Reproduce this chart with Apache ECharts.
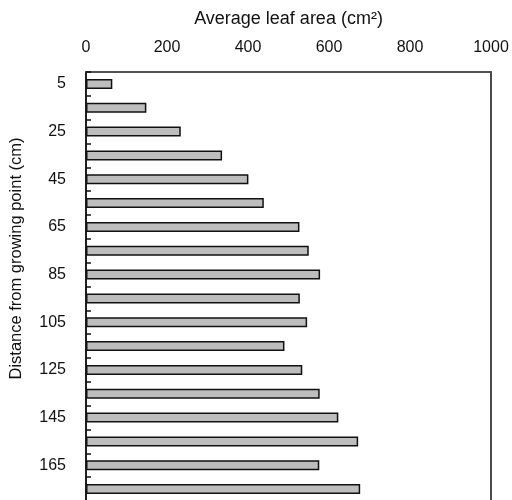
<!DOCTYPE html>
<html>
<head>
<meta charset="utf-8">
<script src="https://cdn.jsdelivr.net/npm/echarts@6/dist/echarts.min.js"></script>
<style>
  html, body { margin: 0; padding: 0; overflow: hidden; background: #fff; }
  #chart { width: 512px; height: 520px; }
</style>
</head>
<body>
<div id="chart"></div>
<script>
// Distance from the growing point (cm), one bar per 10 cm segment
const distances = ['5', '15', '25', '35', '45', '55', '65', '75', '85', '95',
                   '105', '115', '125', '135', '145', '155', '165', '175'];
// Average leaf area per segment (cm²)
const leafArea = [65, 149, 234, 336, 401, 439, 527, 550, 578, 528,
                  546, 490, 534, 577, 623, 672, 576, 677];
const areaTicks = { min: 0, max: 1000, step: 200 };

const font = '"Liberation Sans", Arial, sans-serif';
const chart = echarts.init(document.getElementById('chart'), null, { renderer: 'canvas' });

chart.setOption({
  backgroundColor: '#ffffff',
  animation: false,
  grid: {
    left: 86, top: 72, width: 405, height: 429,
    show: true, borderColor: '#111', borderWidth: 1.5, backgroundColor: 'transparent'
  },
  xAxis: {
    type: 'value',
    position: 'top',
    min: areaTicks.min, max: areaTicks.max, interval: areaTicks.step,
    name: 'Average leaf area (cm²)',
    nameLocation: 'middle',
    nameGap: 44,
    nameTextStyle: { color: '#111', fontSize: 18, fontFamily: font },
    axisLine: { show: true, lineStyle: { color: '#555', width: 1.5 } },
    axisTick: { show: false },
    splitLine: { show: false },
    axisLabel: {
      color: '#111', fontSize: 16, fontFamily: font, margin: 16,
      formatter: v => String(v)
    }
  },
  yAxis: {
    type: 'category',
    data: distances,
    inverse: true,
    name: 'Distance from growing point (cm)',
    nameLocation: 'middle',
    nameGap: 61,
    nameTextStyle: { color: '#111', fontSize: 16.5, fontFamily: font, padding: [0, 0, 0, 56] },
    axisLine: { show: true, lineStyle: { color: '#111', width: 1.5 } },
    axisTick: { show: true, inside: true, length: 5, interval: 0, lineStyle: { color: '#111', width: 1.5 } },
    axisLabel: { color: '#111', fontSize: 16, fontFamily: font, margin: 20, interval: 1 }
  },
  series: [{
    type: 'bar',
    data: leafArea,
    barWidth: 10,
    itemStyle: { color: '#bdbdbd', borderColor: '#111', borderWidth: 1.5 }
  }]
});
</script>
</body>
</html>
